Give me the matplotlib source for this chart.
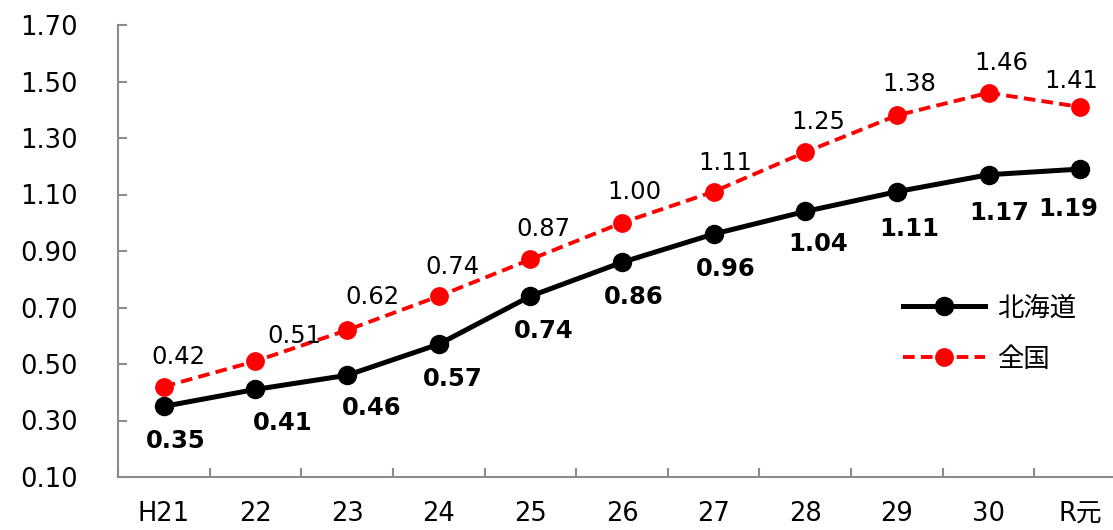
import matplotlib
matplotlib.use("Agg")
import matplotlib.pyplot as plt
import numpy as np

plt.rcParams['font.family'] = ['DejaVu Sans', 'Noto Sans CJK JP']

years = ["H21", "22", "23", "24", "25", "26", "27", "28", "29", "30", "R元"]
hokkaido = [0.35, 0.41, 0.46, 0.57, 0.74, 0.86, 0.96, 1.04, 1.11, 1.17, 1.19]
zenkoku = [0.42, 0.51, 0.62, 0.74, 0.87, 1.00, 1.11, 1.25, 1.38, 1.46, 1.41]
series_names = ["北海道", "全国"]
y_ticks = [0.10, 0.30, 0.50, 0.70, 0.90, 1.10, 1.30, 1.50, 1.70]

# label offsets in pixels (dx, dy) relative to each point
hk_offsets = [(12, -35), (27, -34), (25, -33), (14, -35), (13, -35), (12, -35),
              (12, -35), (13, -33), (12, -37), (11, -38), (-12, -40)]
zk_offsets = [(15, 30), (39, 25), (25, 33), (14, 29), (13, 30), (12, 31),
              (12, 29), (13, 30), (12, 31), (13, 30), (-9, 26)]

fig = plt.figure(figsize=(11.13, 5.30), dpi=100)
ax = fig.add_axes([118 / 1113, 53 / 530, 1008 / 1113, 452 / 530])

x = np.arange(len(years))
ax.plot(x, hokkaido, color='black', lw=3.6, marker='o', markersize=13,
        label=series_names[0], zorder=3)
ax.plot(x, zenkoku, color='#ff0000', lw=2.8, ls=(0, (3, 1.6)), marker='o',
        markersize=12.5, label=series_names[1], zorder=3)

for xi, v, (dx, dy) in zip(x, hokkaido, hk_offsets):
    ax.annotate(f"{v:.2f}", (xi, v), xytext=(dx * 0.72, dy * 0.72),
                textcoords='offset points', ha='center', va='center',
                fontsize=17.5, fontweight='bold', color='black')
for xi, v, (dx, dy) in zip(x, zenkoku, zk_offsets):
    ax.annotate(f"{v:.2f}", (xi, v), xytext=(dx * 0.72, dy * 0.72),
                textcoords='offset points', ha='center', va='center',
                fontsize=17.5, color='black')

ax.set_xlim(-0.5, len(years) - 0.5)
ax.set_ylim(0.10, 1.70)
ax.set_yticks(y_ticks)
ax.set_yticklabels([f"{t:.2f}" for t in y_ticks])
ax.set_xticks(x)
ax.set_xticklabels(years)
ax.set_xticks(np.arange(-0.5, len(years), 1.0), minor=True)

spine_color = '#8c8c8c'
for s in ['top', 'right']:
    ax.spines[s].set_visible(False)
for s in ['left', 'bottom']:
    ax.spines[s].set_color(spine_color)
    ax.spines[s].set_linewidth(1.5)

ax.tick_params(axis='y', direction='in', length=6.5, width=1.5, color=spine_color,
               labelsize=18.5, pad=29, labelcolor='black')
ax.tick_params(axis='x', which='major', length=0, labelsize=18.5, pad=17)
ax.tick_params(axis='x', which='minor', direction='in', length=6.5, width=1.5,
               color=spine_color)

leg = fig.legend(loc='center left', bbox_to_anchor=(890 / 1113, 1 - 334 / 530),
                 frameon=False, fontsize=19, handlelength=3.1, handletextpad=0.45,
                 labelspacing=0.95, borderpad=0)

fig.savefig("out.png", dpi=100)
